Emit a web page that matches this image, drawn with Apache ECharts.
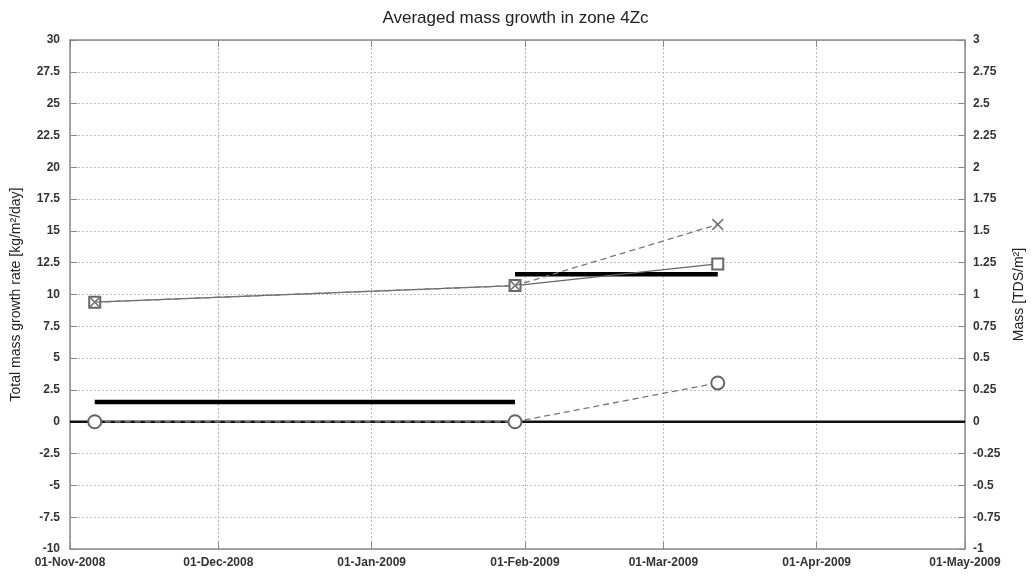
<!DOCTYPE html>
<html><head><meta charset="utf-8">
<script src="https://cdn.jsdelivr.net/npm/echarts@6/dist/echarts.min.js"></script>
<style>html,body{margin:0;padding:0;background:#fff}#c{width:1031px;height:576px}</style>
</head><body><div id="c"></div>
<script>
// Dates (UTC) of the measurements
const dates = ['2008-11-06', '2009-01-30', '2009-03-12'];
// Series values
const squareVals = [9.4, 10.7, 12.4];
const crossVals = [9.4, 10.7, 15.5];
const circleVals = [0, 0, 3.05];
// Averaged rate bars: [start, end, value]
const barSegments = [['2008-11-06', '2009-01-30', 1.55], ['2009-01-30', '2009-03-12', 11.6]];
const xRange = ['2008-11-01', '2009-05-01'];
const months = ['Jan','Feb','Mar','Apr','May','Jun','Jul','Aug','Sep','Oct','Nov','Dec'];

const t = s => Date.parse(s + 'T00:00:00Z');
const pair = (ds, vs) => ds.map((d, i) => [t(d), vs[i]]);
const fmt = v => { const d = new Date(v); const dd = String(d.getUTCDate()).padStart(2,'0'); return dd + '-' + months[d.getUTCMonth()] + '-' + d.getUTCFullYear(); };

const crossPath = 'path://M0,1L1,0L5,4L9,0L10,1L6,5L10,9L9,10L5,6L1,10L0,9L4,5Z';
const font = 'Liberation Sans';
const axisCol = '#8a8a8a';

const chart = echarts.init(document.getElementById('c'), null, {renderer: 'canvas'});
const series = [];
series.push({ type: 'line', data: [[t(xRange[0]), 0], [t(xRange[1]), 0]], symbol: 'none', lineStyle: {color: '#111', width: 2.5}, silent: true, z: 2 });
barSegments.forEach(s => series.push({ type: 'line', data: [[t(s[0]), s[2]], [t(s[1]), s[2]]], symbol: 'none', lineStyle: {color: '#000', width: 4.5}, z: 3 }));
series.push({ type: 'line', data: pair(dates, circleVals), symbol: 'emptyCircle', symbolSize: 13, itemStyle: {color: '#666', borderWidth: 1.2}, lineStyle: {color: '#777', width: 1.3, type: [6, 4]}, z: 4 });
series.push({ type: 'line', data: pair(dates, squareVals), symbol: 'emptyRect', symbolSize: 11, itemStyle: {color: '#666', borderWidth: 1.3}, lineStyle: {color: '#666', width: 1.2}, z: 4 });
series.push({ type: 'line', data: pair(dates, crossVals), symbol: crossPath, symbolSize: [12, 12], itemStyle: {color: '#777'}, lineStyle: {color: '#777', width: 1.3, type: [6, 4]}, z: 5 });

const xCommon = {
  type: 'time', min: t(xRange[0]), max: t(xRange[1]),
  minInterval: 28 * 86400000, maxInterval: 31 * 86400000,
  axisLine: {onZero: false, lineStyle: {color: axisCol, width: 1.5}},
  axisTick: {inside: true, length: 7, lineStyle: {color: axisCol}},
};
chart.setOption({
  animation: false,
  useUTC: true,
  title: {text: 'Averaged mass growth in zone 4Zc', left: 'center', top: 5, textStyle: {fontFamily: font, fontSize: 17, fontWeight: 'normal', color: '#222'}},
  grid: {left: 70, right: 66, top: 40, bottom: 27, containLabel: false, outerBoundsMode: 'none'},
  xAxis: [
    Object.assign({}, xCommon, {position: 'bottom',
      axisLabel: {formatter: fmt, fontFamily: font, fontSize: 12, fontWeight: 'bold', color: '#333', margin: 8, showMinLabel: true, showMaxLabel: true, hideOverlap: false},
      splitLine: {show: true, lineStyle: {color: '#bbb', type: [2, 2]}}}),
    Object.assign({}, xCommon, {position: 'top', axisLabel: {show: false}, splitLine: {show: false}})
  ],
  yAxis: [
    {type: 'value', min: -10, max: 30, interval: 2.5, position: 'left',
      name: 'Total mass growth rate [kg/m²/day]', nameLocation: 'middle', nameGap: 47, nameRotate: 90,
      nameTextStyle: {fontFamily: font, fontSize: 14, color: '#222'},
      axisLine: {show: true, onZero: false, lineStyle: {color: axisCol, width: 1.5}},
      axisTick: {show: true, inside: true, length: 7, lineStyle: {color: axisCol}},
      axisLabel: {fontFamily: font, fontSize: 12, fontWeight: 'bold', color: '#333', margin: 10},
      splitLine: {show: true, lineStyle: {color: '#bbb', type: [2, 2]}}},
    {type: 'value', min: -1, max: 3, interval: 0.25, position: 'right',
      name: 'Mass [TDS/m²]', nameLocation: 'middle', nameGap: 47, nameRotate: 90,
      nameTextStyle: {fontFamily: font, fontSize: 14, color: '#222'},
      axisLine: {show: true, onZero: false, lineStyle: {color: axisCol, width: 1.5}},
      axisTick: {show: true, inside: true, length: 7, lineStyle: {color: axisCol}},
      axisLabel: {fontFamily: font, fontSize: 12, fontWeight: 'bold', color: '#333', margin: 8},
      splitLine: {show: false}}
  ],
  series: series
});
</script></body></html>
